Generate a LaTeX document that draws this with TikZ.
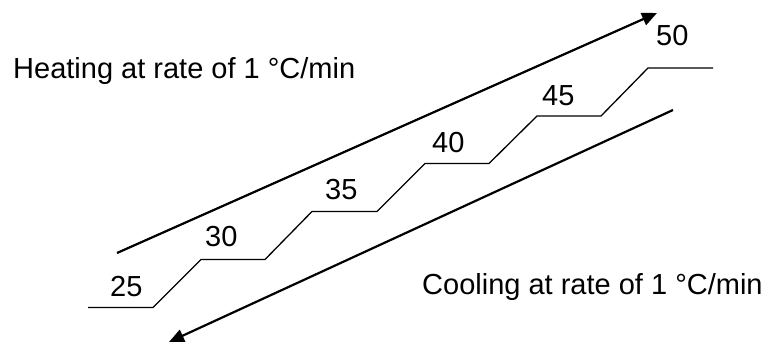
\documentclass[tikz,border=0pt]{standalone}
\usepackage{fontspec}
\setmainfont{Liberation Sans}
\usetikzlibrary{arrows.meta}
\begin{document}
\begin{tikzpicture}[x=1pt,y=-1pt,
  lbl/.style={anchor=base west,inner sep=0pt,font=\fontsize{29}{32}\selectfont},
  stair/.style={line width=1.3pt},
  rate/.style={line width=2.2pt,-{Triangle[length=15pt,width=13pt]}}]
\useasboundingbox (0,0) rectangle (769,344);
% staircase
\coordinate (s0) at (88,307.5);
\coordinate (s1) at (153,307.5);
\coordinate (s2) at (201,259.5);
\coordinate (s3) at (265,259.5);
\coordinate (s4) at (312,211.5);
\coordinate (s5) at (377,211.5);
\coordinate (s6) at (425,163.5);
\coordinate (s7) at (489,163.5);
\coordinate (s8) at (537,116);
\coordinate (s9) at (601,116);
\coordinate (s10) at (648,68);
\coordinate (s11) at (713,68);
\draw[stair] (s0)--(s1)--(s2)--(s3)--(s4)--(s5)--(s6)--(s7)--(s8)--(s9)--(s10)--(s11);
% labels
\node[lbl] (t25) at (110,297) {25};
\node[lbl] (t30) at (205,247) {30};
\node[lbl] (t35) at (325,200) {35};
\node[lbl] (t40) at (432,153) {40};
\node[lbl] (t45) at (542,106) {45};
\node[lbl] (t50) at (656,46) {50};
\node[lbl] (heat) at (13,79) {Heating at rate of 1 °C/min};
\node[lbl] (cool) at (422,295) {Cooling at rate of 1 °C/min};
% arrows
\coordinate (h0) at (117,253);
\coordinate (h1) at (657,13);
\coordinate (c0) at (673,110);
\coordinate (c1) at (169,342);
\draw[rate] (h0) -- (h1);
\draw[rate] (c0) -- (c1);
\end{tikzpicture}
\end{document}
